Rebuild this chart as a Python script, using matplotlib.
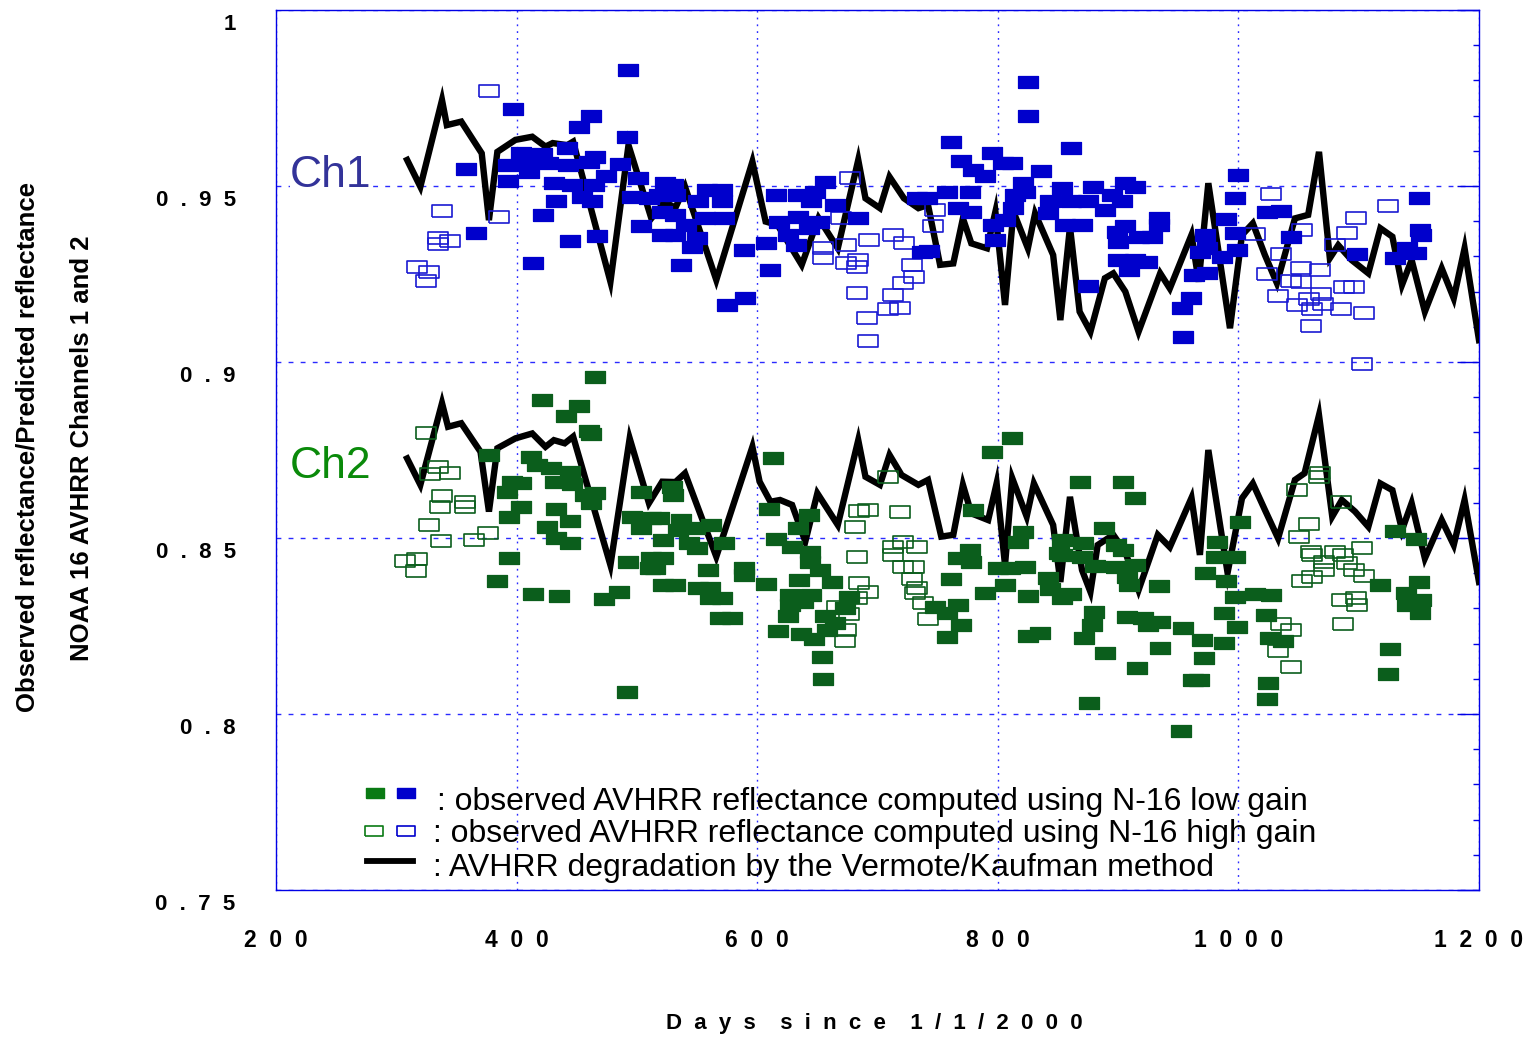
import matplotlib
matplotlib.use("Agg")
import matplotlib.pyplot as plt
from matplotlib.transforms import ScaledTranslation

plt.rcParams['font.family'] = ['Liberation Sans', 'DejaVu Sans']

# Channel 1, observed reflectance ratio computed with low gain (day, ratio)
ch1_low = [
    (493, 0.9830), (397, 0.9719), (462, 0.9700), (452, 0.9667), (492, 0.9640), (358, 0.9547),
    (404, 0.9593), (421, 0.9590), (442, 0.9607), (393, 0.9560), (410, 0.9564), (426, 0.9564),
    (443, 0.9560), (460, 0.9569), (465, 0.9583), (486, 0.9562), (393, 0.9514), (410, 0.9541),
    (431, 0.9508), (446, 0.9503), (464, 0.9503), (474, 0.9527), (501, 0.9522), (433, 0.9456),
    (454, 0.9470), (463, 0.9456), (496, 0.9470), (510, 0.9465), (422, 0.9418), (503, 0.9385),
    (444, 0.9344), (467, 0.9359), (366, 0.9366), (414, 0.9280),
    (523, 0.9508), (530, 0.9503), (518, 0.9475), (532, 0.9475), (521, 0.9427), (532, 0.9418),
    (521, 0.9361), (532, 0.9361), (541, 0.9389), (550, 0.9351), (546, 0.9328), (537, 0.9276),
    (558, 0.9489), (571, 0.9489), (551, 0.9456), (571, 0.9456), (557, 0.9408), (572, 0.9408),
    (589, 0.9318), (575, 0.9162), (590, 0.9181), (611, 0.9261), (616, 0.9475), (634, 0.9475),
    (656, 0.9512), (648, 0.9484), (645, 0.9456), (665, 0.9446), (618, 0.9399), (634, 0.9413),
    (651, 0.9399), (607, 0.9337), (626, 0.9361), (632, 0.9332), (643, 0.9380), (684, 0.9408),
    (737, 0.9313), (733, 0.9465),
    (825, 0.9795), (825, 0.9700), (761, 0.9626), (861, 0.9607), (795, 0.9595), (769, 0.9571),
    (804, 0.9564), (812, 0.9564), (779, 0.9546), (789, 0.9527), (836, 0.9543), (821, 0.9508),
    (853, 0.9493), (879, 0.9498), (906, 0.9508), (914, 0.9498), (741, 0.9465), (758, 0.9484),
    (777, 0.9484), (767, 0.9437), (778, 0.9427), (814, 0.9475), (823, 0.9484), (813, 0.9437),
    (806, 0.9403), (796, 0.9389), (798, 0.9347), (843, 0.9456), (861, 0.9456), (875, 0.9456),
    (895, 0.9475), (903, 0.9456), (842, 0.9422), (856, 0.9389), (870, 0.9389), (889, 0.9432),
    (899, 0.9370), (906, 0.9385), (900, 0.9342), (917, 0.9356), (928, 0.9356), (934, 0.9408),
    (934, 0.9389), (914, 0.9290), (924, 0.9285), (900, 0.9290), (909, 0.9261), (875, 0.9217),
    (743, 0.9316), (963, 0.9247), (961, 0.9181), (953, 0.9153), (954, 0.9072),
    (1000, 0.9531), (997, 0.9465), (990, 0.9405), (1024, 0.9427), (1035, 0.9429), (997, 0.9366),
    (972, 0.9361), (974, 0.9323), (999, 0.9318), (968, 0.9313), (986, 0.9299), (1044, 0.9356),
    (974, 0.9252), (1099, 0.9306), (1130, 0.9296), (1140, 0.9323), (1148, 0.9309), (1150, 0.9465),
    (1151, 0.9375), (1152, 0.9361),
]

# Channel 1, high gain
ch1_high = [
    (377, 0.9771), (338, 0.9429), (385, 0.9413), (335, 0.9353), (345, 0.9344), (335, 0.9335),
    (317, 0.9271), (327, 0.9255), (325, 0.9230),
    (677, 0.9524), (670, 0.9408), (655, 0.9323), (655, 0.9295), (674, 0.9332), (693, 0.9347),
    (713, 0.9361), (722, 0.9337), (684, 0.9290), (674, 0.9280), (683, 0.9271), (729, 0.9276),
    (730, 0.9242), (721, 0.9225), (683, 0.9195), (713, 0.9190), (709, 0.9151), (719, 0.9154),
    (691, 0.9124), (692, 0.9060),
    (748, 0.9432), (746, 0.9387),
    (1027, 0.9476), (1053, 0.9375), (1090, 0.9367), (1098, 0.9409), (1124, 0.9444), (1014, 0.9365),
    (1035, 0.9306), (1024, 0.9249), (1052, 0.9268), (1068, 0.9261), (1044, 0.9230), (1052, 0.9228),
    (1080, 0.9332), (1088, 0.9214), (1096, 0.9212), (1033, 0.9188), (1059, 0.9179), (1069, 0.9192),
    (1049, 0.9162), (1061, 0.9151), (1070, 0.9166), (1085, 0.9151), (1104, 0.9140), (1060, 0.9102),
    (1103, 0.8993),
]

# Channel 2, low gain
ch2_low = [
    (465, 0.8958), (421, 0.8892), (452, 0.8876), (441, 0.8847), (460, 0.8804), (462, 0.8795),
    (377, 0.8736), (412, 0.8731), (417, 0.8707), (429, 0.8698), (444, 0.8688), (396, 0.8660),
    (404, 0.8655), (392, 0.8632), (432, 0.8660), (446, 0.8652), (457, 0.8622), (465, 0.8627),
    (462, 0.8599), (404, 0.8589), (394, 0.8561), (433, 0.8581), (444, 0.8548), (425, 0.8532),
    (433, 0.8499), (444, 0.8485), (503, 0.8632), (496, 0.8561), (512, 0.8556), (503, 0.8528),
    (613, 0.8726), (529, 0.8646), (530, 0.8622), (518, 0.8556), (537, 0.8551), (534, 0.8523),
    (548, 0.8528), (562, 0.8537), (522, 0.8494), (543, 0.8485), (550, 0.8471), (572, 0.8485),
    (610, 0.8581), (643, 0.8565), (634, 0.8529), (616, 0.8497), (629, 0.8475), (644, 0.8461),
    (812, 0.8785), (795, 0.8745), (868, 0.8660), (904, 0.8658), (914, 0.8615), (779, 0.8580),
    (888, 0.8528), (821, 0.8518), (817, 0.8490), (853, 0.8494), (871, 0.8485), (898, 0.8480),
    (904, 0.8466), (851, 0.8456), (777, 0.8466),
    (1001, 0.8546), (982, 0.8490), (1130, 0.8521), (1148, 0.8497),
    (394, 0.8442), (384, 0.8378), (414, 0.8340), (435, 0.8336), (473, 0.8327), (485, 0.8348),
    (492, 0.8062), (493, 0.8433), (511, 0.8414), (512, 0.8442),
    (522, 0.8442), (515, 0.8414), (522, 0.8366), (532, 0.8366), (559, 0.8409), (589, 0.8416),
    (589, 0.8395), (551, 0.8359), (561, 0.8357), (561, 0.8330), (571, 0.8330), (569, 0.8272),
    (579, 0.8272), (607, 0.8368), (635, 0.8381), (644, 0.8433), (652, 0.8409), (662, 0.8374),
    (627, 0.8338), (645, 0.8338), (627, 0.8310), (638, 0.8319), (626, 0.8279), (656, 0.8279),
    (665, 0.8258), (658, 0.8239), (617, 0.8236), (636, 0.8226), (647, 0.8212), (676, 0.8333),
    (673, 0.8300), (654, 0.8163), (655, 0.8099),
    (767, 0.8442), (778, 0.8431), (800, 0.8416), (810, 0.8416), (823, 0.8419), (853, 0.8452),
    (870, 0.8447), (881, 0.8421), (898, 0.8419), (914, 0.8423), (907, 0.8390), (909, 0.8366),
    (934, 0.8365), (842, 0.8387), (843, 0.8355), (853, 0.8329), (861, 0.8340), (825, 0.8335),
    (806, 0.8366), (789, 0.8343), (761, 0.8384), (748, 0.8305), (767, 0.8310), (758, 0.8286),
    (769, 0.8253), (758, 0.8220), (825, 0.8223), (835, 0.8231), (880, 0.8291), (878, 0.8253),
    (872, 0.8217), (889, 0.8172), (907, 0.8276), (921, 0.8272), (925, 0.8253), (935, 0.8262),
    (954, 0.8243), (935, 0.8188), (916, 0.8130), (962, 0.8097), (876, 0.8032), (952, 0.7953),
    (981, 0.8447), (997, 0.8447), (972, 0.8400), (990, 0.8378), (997, 0.8332), (1014, 0.8341),
    (1027, 0.8338), (988, 0.8288), (1023, 0.8281), (999, 0.8248), (970, 0.8210), (988, 0.8201),
    (1026, 0.8215), (1037, 0.8207), (971, 0.8158), (967, 0.8097), (1025, 0.8087), (1024, 0.8043),
    (1118, 0.8366), (1150, 0.8374), (1139, 0.8343), (1152, 0.8324), (1140, 0.8310), (1151, 0.8286),
    (1126, 0.8185), (1124, 0.8113),
]

# Channel 2, high gain
ch2_high = [
    (325, 0.8797), (335, 0.8703), (328, 0.8681), (345, 0.8684), (338, 0.8620), (336, 0.8589),
    (357, 0.8603), (357, 0.8589), (327, 0.8537), (337, 0.8492), (376, 0.8513), (365, 0.8494),
    (709, 0.8674), (692, 0.8580), (685, 0.8577), (719, 0.8575), (681, 0.8532), (713, 0.8475),
    (721, 0.8490), (733, 0.8475),
    (1049, 0.8636), (1068, 0.8684), (1067, 0.8674), (1085, 0.8603), (1059, 0.8539), (1050, 0.8504),
    (1060, 0.8459), (1080, 0.8461), (1103, 0.8471),
    (307, 0.8435), (317, 0.8440), (316, 0.8406),
    (683, 0.8447), (713, 0.8452), (721, 0.8419), (730, 0.8419), (685, 0.8371), (692, 0.8348),
    (683, 0.8330), (666, 0.8305), (676, 0.8283), (674, 0.8239), (673, 0.8207), (729, 0.8384),
    (733, 0.8359), (731, 0.8343), (738, 0.8314), (742, 0.8270),
    (1061, 0.8452), (1071, 0.8433), (1087, 0.8452), (1090, 0.8428), (1071, 0.8409), (1061, 0.8390),
    (1053, 0.8378), (1096, 0.8409), (1104, 0.8393), (1086, 0.8324), (1098, 0.8329), (1099, 0.8310),
    (1087, 0.8257), (1035, 0.8257), (1044, 0.8239), (1033, 0.8179), (1044, 0.8133),
]

# Vermote/Kaufman degradation curves
ch1_vk_day = [309, 320, 338, 342, 354, 371, 377, 384, 399, 413, 424, 430, 442, 447, 478, 493, 512,
              523, 532, 540, 566, 596, 607, 617, 637, 651, 667, 684, 690, 702, 710, 722, 734, 742,
              752, 763, 771, 778, 791, 798, 806, 813, 825, 831, 846, 852, 860, 868, 877, 889, 896,
              906, 917, 935, 943, 961, 967, 975, 993, 1003, 1012, 1022, 1032, 1047, 1058, 1067,
              1076, 1083, 1094, 1108, 1118, 1128, 1136, 1144, 1155, 1169, 1179, 1188, 1200]
ch1_vk_val = [0.9574, 0.9498, 0.9744, 0.9673, 0.9683, 0.9593, 0.9403, 0.9597, 0.9631, 0.9640,
              0.9612, 0.9622, 0.9616, 0.9626, 0.9228, 0.9616, 0.9408, 0.9455, 0.9438, 0.9498,
              0.9233, 0.9569, 0.9399, 0.9389, 0.9276, 0.9409, 0.9323, 0.9574, 0.9465, 0.9437,
              0.9526, 0.9465, 0.9437, 0.9446, 0.9276, 0.9280, 0.9408, 0.9337, 0.9323, 0.9427,
              0.9162, 0.9427, 0.9323, 0.9422, 0.9304, 0.9119, 0.9384, 0.9143, 0.9086, 0.9238,
              0.9252, 0.9200, 0.9086, 0.9252, 0.9209, 0.9361, 0.9228, 0.9508, 0.9096, 0.9361,
              0.9394, 0.9304, 0.9224, 0.9408, 0.9418, 0.9597, 0.9295, 0.9332, 0.9290, 0.9252,
              0.9380, 0.9356, 0.9219, 0.9290, 0.9143, 0.9266, 0.9181, 0.9323, 0.9062]

ch2_vk_day = [309, 320, 338, 343, 354, 370, 377, 384, 399, 413, 424, 431, 440, 447, 478, 494, 510,
              521, 532, 540, 566, 596, 602, 611, 619, 629, 640, 650, 667, 684, 690, 702, 710, 720,
              734, 742, 753, 763, 771, 778, 792, 799, 806, 812, 824, 830, 846, 852, 860, 870, 877,
              883, 896, 906, 917, 933, 943, 961, 968, 975, 991, 1003, 1012, 1022, 1033, 1047, 1055,
              1067, 1078, 1086, 1097, 1108, 1118, 1128, 1136, 1144, 1155, 1169, 1179, 1188, 1200]
ch2_vk_val = [0.8726, 0.8651, 0.8883, 0.8816, 0.8826, 0.8745, 0.8575, 0.8755, 0.8783, 0.8797,
              0.8759, 0.8778, 0.8769, 0.8788, 0.8423, 0.8783, 0.8599, 0.8660, 0.8659, 0.8684,
              0.8447, 0.8759, 0.8660, 0.8603, 0.8608, 0.8594, 0.8490, 0.8627, 0.8537, 0.8778,
              0.8674, 0.8651, 0.8736, 0.8679, 0.8651, 0.8665, 0.8504, 0.8509, 0.8651, 0.8570,
              0.8551, 0.8655, 0.8423, 0.8670, 0.8561, 0.8655, 0.8537, 0.8375, 0.8617, 0.8409,
              0.8347, 0.8480, 0.8509, 0.8460, 0.8352, 0.8509, 0.8474, 0.8614, 0.8452, 0.8750,
              0.8401, 0.8613, 0.8655, 0.8580, 0.8499, 0.8665, 0.8684, 0.8849, 0.8561, 0.8608,
              0.8575, 0.8532, 0.8655, 0.8636, 0.8523, 0.8599, 0.8442, 0.8551, 0.8480, 0.8608,
              0.8375]

x_ticks = [200, 400, 600, 800, 1000, 1200]
y_ticks = [0.75, 0.8, 0.85, 0.9, 0.95, 1.0]


def spaced(s):
    # letter-spaced labels
    return '  '.join(s)


BLUE = '#0000cc'
GREEN = '#0b5e1c'
GRID = '#2a2aff'
FRAME = '#0000e6'
rect = [(-1, -0.58), (1, -0.58), (1, 0.58), (-1, 0.58), (-1, -0.58)]

fig = plt.figure(figsize=(15.3, 10.4), dpi=100)
ax = fig.add_axes([276 / 1530, 1 - 890 / 1040, 1203 / 1530, 880 / 1040])
ax.set_xlim(200, 1200)
ax.set_ylim(0.75, 1.0)

for day, val in [(ch1_vk_day, ch1_vk_val), (ch2_vk_day, ch2_vk_val)]:
    ax.plot(day, val, color='black', lw=4.6, solid_joinstyle='miter', zorder=3)


def draw_points(pts, color, filled):
    xs = [p[0] for p in pts]
    ys = [p[1] for p in pts]
    ax.plot(xs, ys, linestyle='none', marker=rect, markersize=14.8,
            markerfacecolor=color if filled else 'none', markeredgecolor=color,
            markeredgewidth=0.9 if filled else 1.2, zorder=4)


draw_points(ch1_high, '#1a1ad2', False)
draw_points(ch2_high, GREEN, False)
draw_points(ch1_low, BLUE, True)
draw_points(ch2_low, GREEN, True)

# grid: dashed horizontals, dotted verticals
ax.yaxis.grid(True, color=GRID, lw=1.0, linestyle=(0, (3.5, 5.2)), zorder=1)
ax.xaxis.grid(True, color=GRID, lw=1.0, linestyle=(0, (1.3, 3.6)), zorder=1)
ax.set_axisbelow(True)

ax.set_xticks(x_ticks, [spaced(str(t)) for t in x_ticks])
ax.set_yticks(y_ticks, [spaced(f'{t:g}') for t in y_ticks], va='top')
ax.set_yticks([0.75 + 0.01 * i for i in range(26)], minor=True)
ax.tick_params(axis='x', which='both', bottom=False, top=False, pad=24.5,
               labelsize=16.5)
ax.tick_params(axis='y', which='major', left=False, right=True, direction='in',
               length=16, width=1, color=FRAME, pad=29, labelsize=16)
ax.tick_params(axis='y', which='minor', left=False, right=True, direction='in',
               length=4, width=1, color=FRAME)
for lbl in ax.get_xticklabels() + ax.get_yticklabels():
    lbl.set_fontweight('bold')

# y labels sit a little below their gridline
shift_down = ScaledTranslation(0, -0.045, fig.dpi_scale_trans)
for tick in ax.yaxis.get_major_ticks():
    tick.label1.set_transform(tick.label1.get_transform() + shift_down)

for sp in ax.spines.values():
    sp.set_color(FRAME)
    sp.set_linewidth(1.0)

# channel tags
ax.text(0.0116, 0.799, 'Ch1', transform=ax.transAxes, fontsize=32, color='#333399',
        ha='left', va='baseline', zorder=5,
        bbox=dict(facecolor='white', edgecolor='none', pad=0))
ax.text(0.0116, 0.468, 'Ch2', transform=ax.transAxes, fontsize=32, color='#0a8a0a',
        ha='left', va='baseline', zorder=5)

# key
key_kw = dict(linestyle='none', marker=rect, markersize=12.5, transform=ax.transAxes,
              clip_on=False, zorder=6)
ax.plot([0.0823], [0.1102], markerfacecolor='#0a7a14', markeredgecolor='#0a7a14', **key_kw)
ax.plot([0.108], [0.1102], markerfacecolor=BLUE, markeredgecolor=BLUE, **key_kw)
ax.plot([0.0815], [0.0670], markerfacecolor='none', markeredgecolor='#0a7a14',
        markeredgewidth=1.2, **key_kw)
ax.plot([0.108], [0.0670], markerfacecolor='none', markeredgecolor=BLUE,
        markeredgewidth=1.2, **key_kw)
ax.plot([0.0756, 0.1139], [0.033, 0.033], color='black', lw=4.2, transform=ax.transAxes,
        zorder=6)
key_text = [
    (0.1338, 0.0909, ': observed AVHRR reflectance computed using N-16 low gain'),
    (0.1305, 0.0545, ': observed AVHRR reflectance computed using N-16 high gain'),
    (0.1305, 0.0159, ': AVHRR degradation by the Vermote/Kaufman method'),
]
for kx, ky, txt in key_text:
    ax.text(kx, ky, txt, transform=ax.transAxes, fontsize=23, ha='left', va='baseline',
            zorder=6)

fig.text(874 / 1530, 1 - 1024 / 1040, 'D  a  y  s    s  i  n  c  e    1  /  1  /  2  0  0  0',
         ha='center', va='center', fontsize=16, fontweight='bold')
fig.text(28 / 1530, 1 - 447 / 1040, 'Observed reflectance/Predicted reflectance',
         rotation=90, ha='center', va='center', fontsize=18.5, fontweight='bold')
fig.text(82 / 1530, 1 - 448 / 1040, 'NOAA 16 AVHRR Channels 1 and 2',
         rotation=90, ha='center', va='center', fontsize=18.5, fontweight='bold')

fig.savefig('out.png', dpi=100)
